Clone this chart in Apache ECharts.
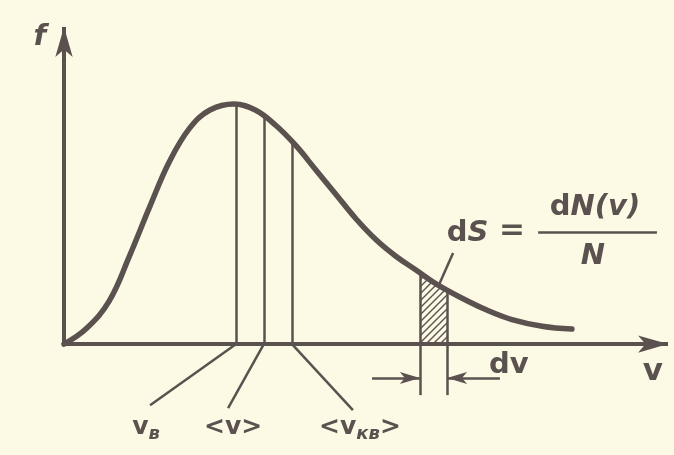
<!DOCTYPE html>
<html>
<head>
<meta charset="utf-8">
<script src="https://cdn.jsdelivr.net/npm/echarts@6/dist/echarts.min.js"></script>
<style>
  html, body { margin: 0; padding: 0; background: #fcf9e4; }
  #chart { width: 674px; height: 455px; }
</style>
</head>
<body>
<div id="chart"></div>
<script>
  // Maxwell speed distribution (v, f)
  var curveV = [0, 0.45, 0.9, 1.3, 1.7, 2.1, 2.5, 2.9, 3.38, 3.8, 4.2, 4.6, 5.0, 5.4, 5.8, 6.2, 6.6, 7.0, 7.4, 7.9, 8.4, 8.9, 9.5, 10.09];
  var curveF = [0, 0.55, 1.5, 3.05, 4.75, 6.35, 7.5, 8.12, 8.33, 8.12, 7.6, 6.9, 6.05, 5.2, 4.35, 3.62, 3.04, 2.56, 2.08, 1.60, 1.18, 0.85, 0.62, 0.52];

  // characteristic speeds: most probable, mean, root mean square
  var speedLabels = ['{t|v}{s|в}', '{t|<v>}', '{t|<v}{s|кв}{t|>}'];
  var speedV = [3.42, 3.97, 4.53];
  var speedF = [8.33, 7.93, 6.98];

  // the strip dv under the curve
  var stripV = [7.07, 7.34, 7.61];
  var stripF = [2.48, 2.14, 1.84];

  var ink = '#5b5250';

  function seg(a, b) { return [{ coord: a }, { coord: b }]; }

  function lineMarks(name, segs, width, symbol, symbolSize) {
    return {
      name: name,
      type: 'line',
      data: [],
      silent: true,
      markLine: {
        silent: true,
        animation: false,
        symbol: symbol || ['none', 'none'],
        symbolSize: symbolSize || 10,
        label: { show: false },
        emphasis: { disabled: true },
        lineStyle: { color: ink, width: width, type: 'solid' },
        data: segs
      }
    };
  }

  // hatch pattern for the strip
  var hatch = document.createElement('canvas');
  hatch.width = 7;
  hatch.height = 7;
  var hc = hatch.getContext('2d');
  hc.strokeStyle = ink;
  hc.lineWidth = 1.4;
  hc.beginPath();
  hc.moveTo(0, 7); hc.lineTo(7, 0);
  hc.moveTo(-1, 1); hc.lineTo(1, -1);
  hc.moveTo(6, 8); hc.lineTo(8, 6);
  hc.stroke();

  var chart = echarts.init(document.getElementById('chart'));

  var speedSegs = [];
  var leaderSegs = [];
  var labelData = [];
  var labelPos = [[1.63, -2.91], [3.36, -2.88], [5.88, -2.91]];
  var leaderEnd = [[1.71, -2.12], [3.26, -2.22], [5.74, -2.29]];
  for (var i = 0; i < speedV.length; i++) {
    speedSegs.push(seg([speedV[i], 0], [speedV[i], speedF[i]]));
    leaderSegs.push(seg([speedV[i], 0], leaderEnd[i]));
    labelData.push({ value: labelPos[i], label: { formatter: speedLabels[i] } });
  }

  var stripSegs = [
    seg([stripV[0], stripF[0]], [stripV[0], -1.77]),
    seg([stripV[2], stripF[2]], [stripV[2], -1.77])
  ];

  var base = { fontFamily: 'DejaVu Sans', color: ink, fontWeight: 'bold', textBorderWidth: 0 };
  function st(extra) { return Object.assign({}, base, extra); }
  var richText = {
    t: st({ fontSize: 25 }),
    s: st({ fontSize: 18, fontStyle: 'italic', verticalAlign: 'bottom', padding: [12, 0, 0, 0] }),
    d: st({ fontSize: 29 }),
    i: st({ fontSize: 29, fontStyle: 'italic' }),
    e: st({ fontSize: 31 })
  };

  var texts = [
    { value: [8.02, 3.85], label: { formatter: '{d|d}{i|S}' } },
    { value: [8.90, 3.92], label: { formatter: '{e|=}' } },
    { value: [10.55, 4.75], label: { formatter: '{d|d}{i|N(v)}' } },
    { value: [10.51, 3.05], label: { formatter: '{i|N}' } },
    { value: [8.84, -0.73], label: { formatter: '{d|dv}' } },
    { value: [11.70, -0.97], label: { formatter: '{e|v}' } },
    { value: [-0.48, 10.62], label: { formatter: '{i|f}' } }
  ];

  var labelBase = { show: true, position: 'inside', color: ink, textBorderWidth: 0, rich: richText };

  var option = {
    backgroundColor: '#fcf9e4',
    animation: false,
    grid: { left: 13.67, right: 6, top: 27, bottom: 10 },
    xAxis: { type: 'value', min: -1, max: 12, show: false },
    yAxis: { type: 'value', min: -3.5, max: 11, show: false },
    series: [
      {
        name: 'strip',
        type: 'line',
        data: stripV.map(function (v, i) { return [v, stripF[i]]; }),
        showSymbol: false,
        lineStyle: { width: 0 },
        areaStyle: { color: { image: hatch, repeat: 'repeat' }, opacity: 1 },
        silent: true,
        z: 1
      },
      lineMarks('speeds', speedSegs, 2.5),
      lineMarks('leaders', leaderSegs, 2.5),
      lineMarks('strip edges', stripSegs, 2.5),
      lineMarks('dS leader', [seg([7.73, 3.16], [7.43, 1.98])], 2.5),
      lineMarks('fraction', [seg([9.42, 3.89], [11.78, 3.89])], 2.5),
      lineMarks('dv arrows', [seg([6.12, -1.18], [7.07, -1.18]), seg([8.66, -1.18], [7.61, -1.18])], 2.5, ['none', 'arrow'], [9, 20]),
      lineMarks('axes', [seg([0, 0], [12, 0]), seg([0, 0], [0, 11])], 4, ['none', 'arrow'], [13, 30]),
      {
        name: 'f(v)',
        type: 'line',
        data: curveV.map(function (v, i) { return [v, curveF[i]]; }),
        smooth: 0.4,
        showSymbol: false,
        silent: true,
        lineStyle: { color: ink, width: 5.5, cap: 'round', join: 'round' },
        z: 5
      },
      {
        name: 'speed labels',
        type: 'scatter',
        data: labelData,
        symbolSize: 0,
        silent: true,
        itemStyle: { opacity: 1 },
        label: labelBase
      },
      {
        name: 'texts',
        type: 'scatter',
        data: texts,
        symbolSize: 0,
        silent: true,
        itemStyle: { opacity: 1 },
        label: labelBase
      }
    ]
  };

  chart.setOption(option);
</script>
</body>
</html>
